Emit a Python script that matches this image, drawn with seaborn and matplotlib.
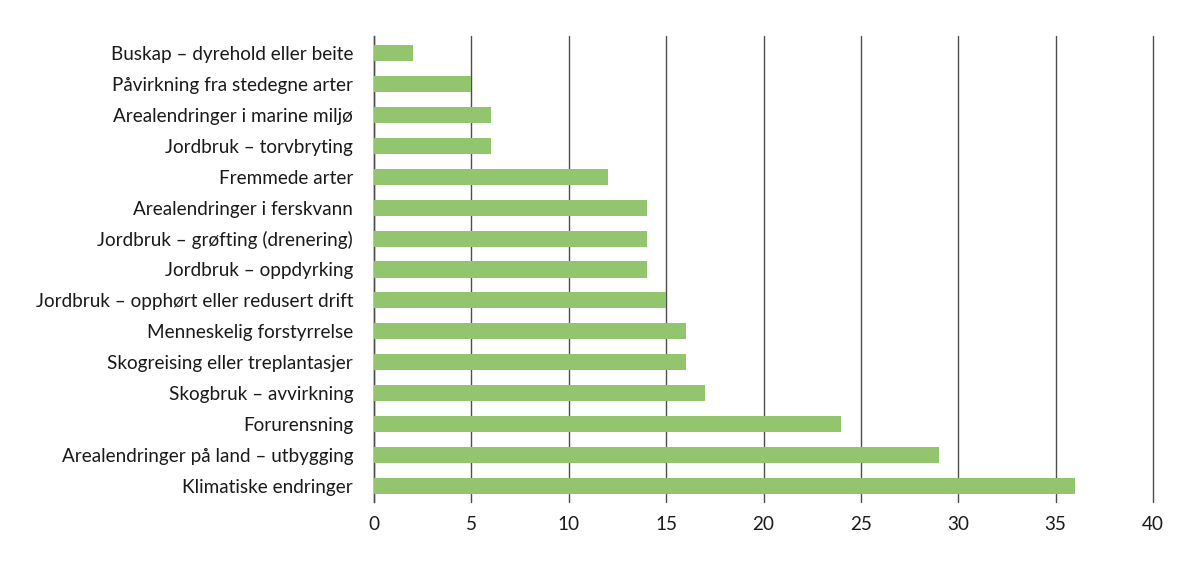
import matplotlib
matplotlib.use("Agg")
import matplotlib.pyplot as plt
import seaborn as sns
import pandas as pd

categories = [
    "Buskap – dyrehold eller beite",
    "Påvirkning fra stedegne arter",
    "Arealendringer i marine miljø",
    "Jordbruk – torvbryting",
    "Fremmede arter",
    "Arealendringer i ferskvann",
    "Jordbruk – grøfting (drenering)",
    "Jordbruk – oppdyrking",
    "Jordbruk – opphørt eller redusert drift",
    "Menneskelig forstyrrelse",
    "Skogreising eller treplantasjer",
    "Skogbruk – avvirkning",
    "Forurensning",
    "Arealendringer på land – utbygging",
    "Klimatiske endringer",
]
values = [2, 5, 6, 6, 12, 14, 14, 14, 15, 16, 16, 17, 24, 29, 36]
x_ticks = [0, 5, 10, 15, 20, 25, 30, 35, 40]

df = pd.DataFrame({"category": categories, "value": values})

sns.set_style("white")
plt.rcParams["font.family"] = ["Lato", "DejaVu Sans"]

fig = plt.figure(figsize=(11.98, 5.68), dpi=100)
ax = fig.add_axes([374 / 1198, 1 - 502 / 568, (1153 - 374) / 1198, (502 - 36) / 568])

sns.barplot(data=df, x="value", y="category", color="#93c56f", width=0.52,
            saturation=1, linewidth=0, ax=ax, orient="h", zorder=3)

ax.set_xlim(0, 40)
ax.set_ylim(14.52, -0.55)
ax.set_xticks(x_ticks)
ax.set_xlabel("")
ax.set_ylabel("")
ax.grid(axis="x", color="#4d4d4d", linewidth=1, zorder=0)
ax.grid(axis="y", visible=False)
for line in ax.get_xgridlines():
    line.set_clip_on(False)
for s in ["top", "right", "bottom"]:
    ax.spines[s].set_visible(False)
ax.spines["left"].set_color("#4d4d4d")
ax.spines["left"].set_linewidth(1)
ax.tick_params(axis="y", length=0, pad=15, labelsize=13.6, labelcolor="#1a1a1a")
ax.tick_params(axis="x", length=0, pad=10, labelsize=13.6, labelcolor="#1a1a1a")

fig.savefig("out.png", dpi=100)
